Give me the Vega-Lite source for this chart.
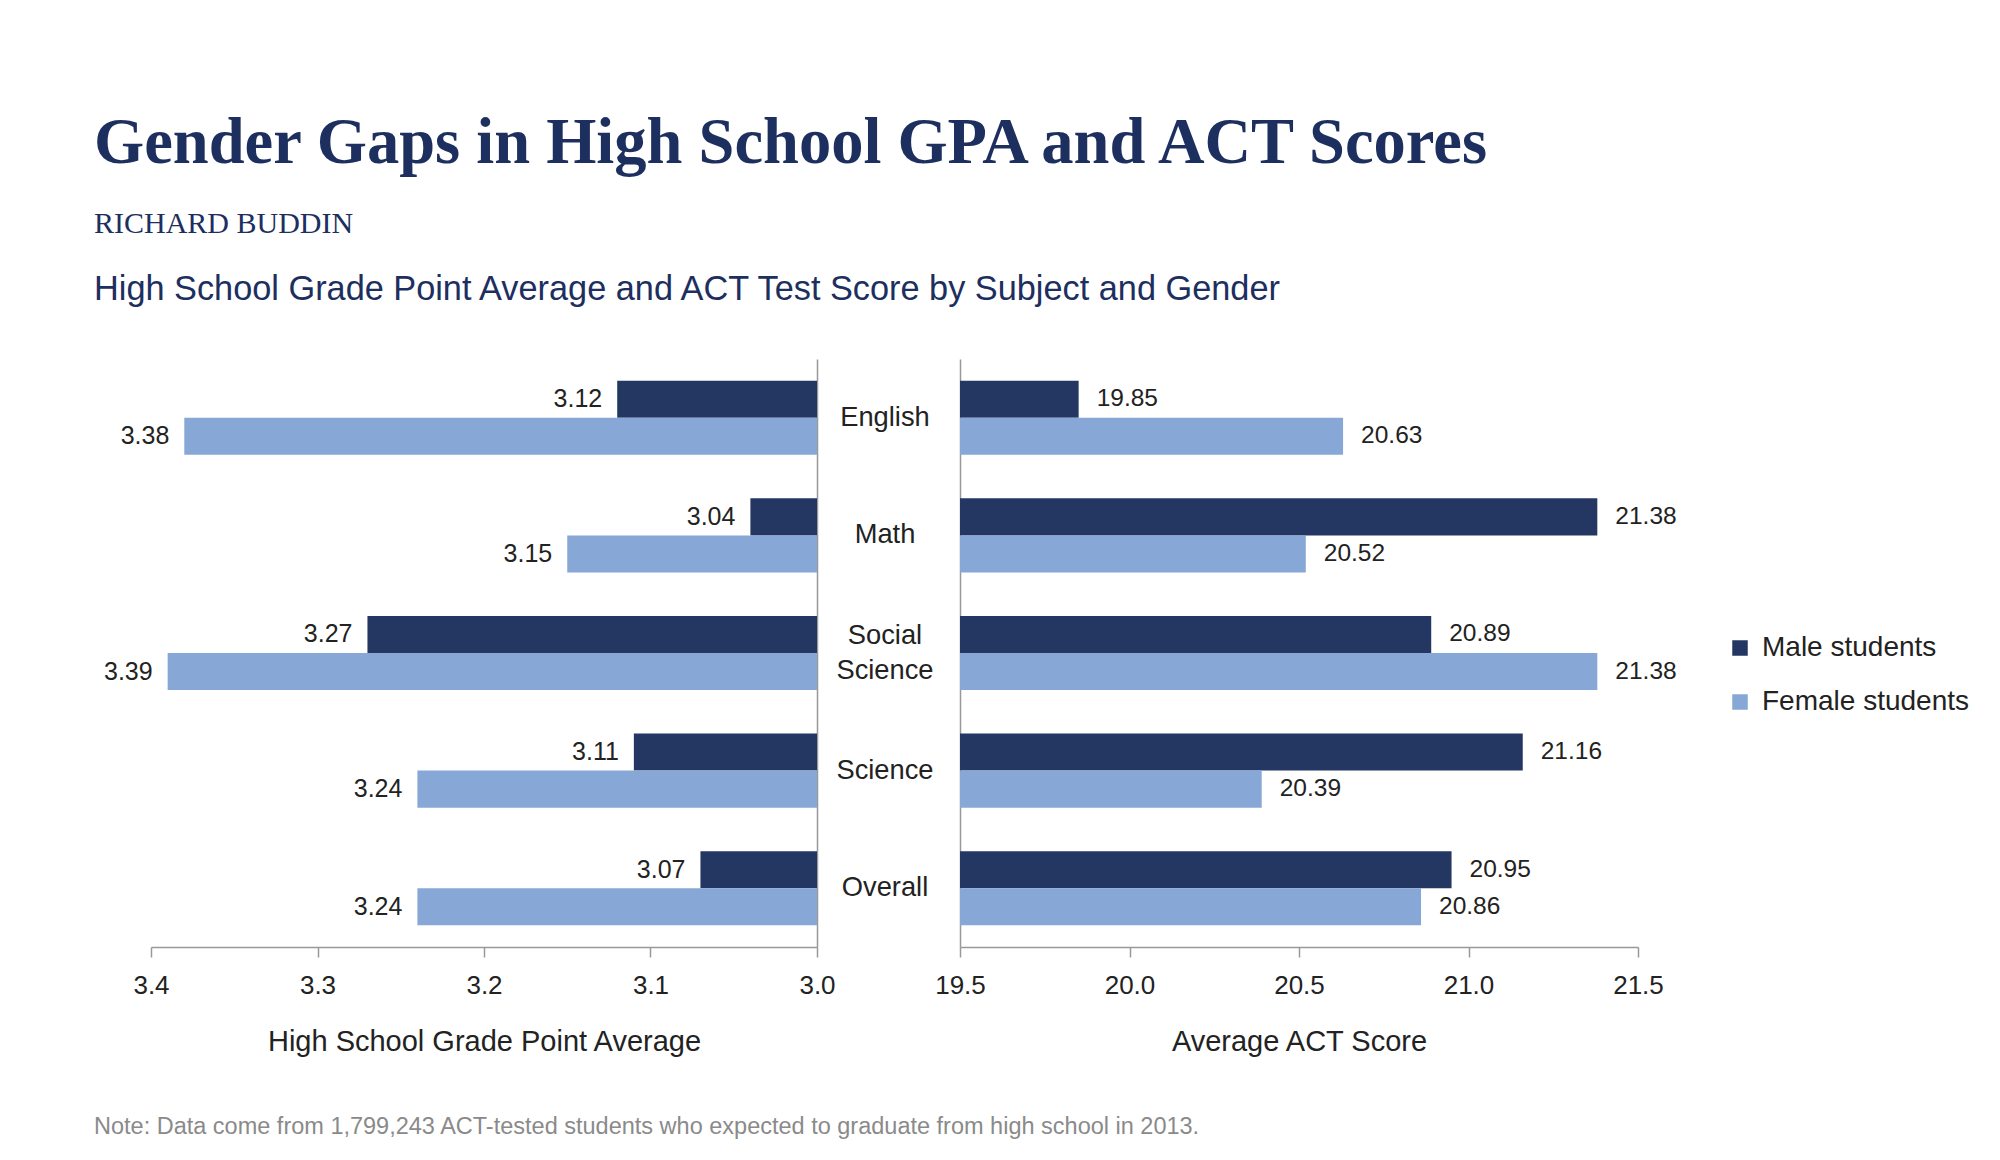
{
  "$schema": "https://vega.github.io/schema/vega-lite/v6.json",
  "padding": {"left": 93, "top": 111, "right": 10, "bottom": 10},
  "background": "white",
  "config": {
    "view": {"stroke": null},
    "font": "Liberation Sans",
    "axis": {"grid": false, "domainColor": "#999999", "tickColor": "#999999", "labelColor": "#222222", "titleColor": "#222222", "labelFont": "Liberation Sans", "titleFont": "Liberation Sans"}
  },
  "title": {
    "text": "Gender Gaps in High School GPA and ACT Scores",
    "subtitle": "RICHARD BUDDIN",
    "anchor": "start",
    "font": "Liberation Serif",
    "fontSize": 64.5,
    "fontWeight": "bold",
    "color": "#1d2f5f",
    "subtitleFont": "Liberation Serif",
    "subtitleFontSize": 30,
    "subtitleColor": "#1d2f5f",
    "subtitlePadding": 32,
    "offset": 33
  },
  "data": {
    "values": [
      {"subject": "English", "gender": "Male students", "gpa": 3.12, "act": 19.85},
      {"subject": "English", "gender": "Female students", "gpa": 3.38, "act": 20.63},
      {"subject": "Math", "gender": "Male students", "gpa": 3.04, "act": 21.38},
      {"subject": "Math", "gender": "Female students", "gpa": 3.15, "act": 20.52},
      {"subject": "Social Science", "gender": "Male students", "gpa": 3.27, "act": 20.89},
      {"subject": "Social Science", "gender": "Female students", "gpa": 3.39, "act": 21.38},
      {"subject": "Science", "gender": "Male students", "gpa": 3.11, "act": 21.16},
      {"subject": "Science", "gender": "Female students", "gpa": 3.24, "act": 20.39},
      {"subject": "Overall", "gender": "Male students", "gpa": 3.07, "act": 20.95},
      {"subject": "Overall", "gender": "Female students", "gpa": 3.24, "act": 20.86}
    ]
  },
  "vconcat": [
    {
      "title": {
        "text": "Note: Data come from 1,799,243 ACT-tested students who expected to graduate from high school in 2013.",
        "orient": "bottom",
        "anchor": "start",
        "font": "Liberation Sans",
        "fontSize": 23.5,
        "fontWeight": "normal",
        "color": "#8a8a8a",
        "offset": 59
      },
      "vconcat": [
        {
          "title": {
            "text": "High School Grade Point Average and ACT Test Score by Subject and Gender",
            "anchor": "start",
            "dx": -10,
            "font": "Liberation Sans",
            "fontSize": 34.3,
            "fontWeight": "normal",
            "color": "#1d2f5f",
            "offset": 52
          },
          "spacing": 0,
          "resolve": {"scale": {"color": "independent", "y": "independent"}, "legend": {"color": "independent"}},
          "hconcat": [
            {
              "width": 666,
              "height": 588,
              "encoding": {
                "y": {"field": "subject", "type": "nominal", "sort": ["English", "Math", "Social Science", "Science", "Overall"], "scale": {"domain": ["English", "Math", "Social Science", "Science", "Overall"], "paddingInner": 0.37, "paddingOuter": 0.185}, "axis": {"orient": "right", "title": null, "labels": false, "ticks": false, "domain": true, "domainWidth": 1.5}},
                "yOffset": {"field": "gender", "type": "nominal", "sort": ["Male students", "Female students"], "scale": {"paddingInner": 0, "paddingOuter": 0}}
              },
              "layer": [
                {
                  "mark": {"type": "bar"},
                  "encoding": {
                    "x": {"field": "gpa", "type": "quantitative", "scale": {"domain": [3.0, 3.4], "reverse": true, "zero": false, "nice": false},
                      "axis": {"values": [3.0, 3.1, 3.2, 3.3, 3.4], "format": ".1f", "labelFlush": false, "labelFontSize": 26, "labelPadding": 15, "tickSize": 10, "domainWidth": 1.5, "tickWidth": 1.5, "title": "High School Grade Point Average", "titleFontSize": 29, "titleFontWeight": "normal", "titlePadding": 29}},
                    "x2": {"datum": 3.0},
                    "color": {"field": "gender", "type": "nominal", "scale": {"domain": ["Male students", "Female students"], "range": ["#243762", "#87a8d6"]}, "legend": null}
                  }
                },
                {
                  "mark": {"type": "text", "align": "right", "baseline": "middle", "dx": -15, "fontSize": 25, "color": "#222222"},
                  "encoding": {
                    "x": {"field": "gpa", "type": "quantitative"},
                    "text": {"field": "gpa", "type": "quantitative", "format": ".2f"}
                  }
                }
              ]
            },
            {
              "width": 92,
              "height": 588,
              "encoding": {
                "y": {"field": "subject", "type": "nominal", "sort": ["English", "Math", "Social Science", "Science", "Overall"], "scale": {"domain": ["English", "Math", "Social Science", "Science", "Overall"], "paddingInner": 0.37, "paddingOuter": 0.185}, "axis": null},
                "text": {"field": "label", "type": "nominal"}
              },
              "layer": [
                {
                  "data": {
                    "values": [
                      {"subject": "English", "label": "English"},
                      {"subject": "Math", "label": "Math"},
                      {"subject": "Science", "label": "Science"},
                      {"subject": "Overall", "label": "Overall"}
                    ]
                  },
                  "mark": {"type": "text", "align": "center", "baseline": "middle", "fontSize": 27.3, "color": "#222222"}
                },
                {
                  "data": {
                    "values": [
                      {"subject": "Social Science", "label": ["Social", "Science"]}
                    ]
                  },
                  "mark": {"type": "text", "align": "center", "baseline": "middle", "fontSize": 27.3, "lineHeight": 35, "dy": -17.5, "color": "#222222"}
                }
              ]
            },
            {
              "width": 678,
              "height": 588,
              "encoding": {
                "y": {"field": "subject", "type": "nominal", "sort": ["English", "Math", "Social Science", "Science", "Overall"], "scale": {"domain": ["English", "Math", "Social Science", "Science", "Overall"], "paddingInner": 0.37, "paddingOuter": 0.185}, "axis": {"orient": "left", "title": null, "labels": false, "ticks": false, "domain": true, "domainWidth": 1.5}},
                "yOffset": {"field": "gender", "type": "nominal", "sort": ["Male students", "Female students"], "scale": {"paddingInner": 0, "paddingOuter": 0}}
              },
              "layer": [
                {
                  "mark": {"type": "bar"},
                  "encoding": {
                    "x": {"field": "act", "type": "quantitative", "scale": {"domain": [19.5, 21.5], "zero": false, "nice": false},
                      "axis": {"values": [19.5, 20.0, 20.5, 21.0, 21.5], "format": ".1f", "labelFlush": false, "labelFontSize": 26, "labelPadding": 15, "tickSize": 10, "domainWidth": 1.5, "tickWidth": 1.5, "title": "Average ACT Score", "titleFontSize": 29, "titleFontWeight": "normal", "titlePadding": 29}},
                    "x2": {"datum": 19.5},
                    "color": {"field": "gender", "type": "nominal", "scale": {"domain": ["Male students", "Female students"], "range": ["#243762", "#87a8d6"]},
                      "legend": {"title": null, "orient": "none", "legendX": 766, "legendY": 275, "symbolType": "square", "symbolSize": 240, "symbolStrokeWidth": 0, "labelFontSize": 28, "labelLimit": 400, "labelColor": "#222222", "labelOffset": 8, "rowPadding": 26, "labelFont": "Liberation Sans"}}
                  }
                },
                {
                  "mark": {"type": "text", "align": "left", "baseline": "middle", "dx": 18, "fontSize": 24.5, "color": "#222222"},
                  "encoding": {
                    "x": {"field": "act", "type": "quantitative"},
                    "text": {"field": "act", "type": "quantitative", "format": ".2f"}
                  }
                }
              ]
            }
          ]
        }
      ]
    }
  ]
}
